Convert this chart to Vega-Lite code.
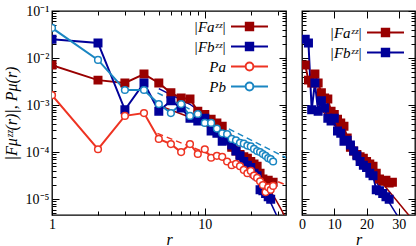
{
  "$schema": "https://vega.github.io/schema/vega-lite/v6.json",
  "background": "white",
  "padding": {"left": 2, "top": 3, "right": 2, "bottom": 0},
  "datasets": {
    "pts": [
      {"s":"Fa","r":1,"v":0.00708},{"s":"Fa","r":2,"v":0.00339},{"s":"Fa","r":3,"v":0.00295},{"s":"Fa","r":4,"v":0.00457},{"s":"Fa","r":5,"v":0.00295},{"s":"Fa","r":6,"v":0.00182},{"s":"Fa","r":7,"v":0.00141},{"s":"Fa","r":8,"v":0.00135},{"s":"Fa","r":9,"v":0.000741},{"s":"Fa","r":10,"v":0.000631},{"s":"Fa","r":11,"v":0.000501},{"s":"Fa","r":12,"v":0.000417},{"s":"Fa","r":13,"v":0.000355},{"s":"Fa","r":14,"v":0.0002},{"s":"Fa","r":15,"v":0.000126},{"s":"Fa","r":16,"v":0.000105},{"s":"Fa","r":17,"v":0.0000891},{"s":"Fa","r":18,"v":0.0000794},{"s":"Fa","r":19,"v":0.0000741},{"s":"Fa","r":20,"v":0.0000631},{"s":"Fa","r":21,"v":0.0000562},{"s":"Fa","r":22,"v":0.0000501},{"s":"Fa","r":23,"v":0.0000355},{"s":"Fa","r":24,"v":0.0000269},{"s":"Fa","r":25,"v":0.000024},{"s":"Fa","r":26,"v":0.0000251},{"s":"Fa","r":27,"v":0.0000219},{"s":"Fa","r":28,"v":0.0000229},
      {"s":"Fb","r":1,"v":0.0251},{"s":"Fb","r":2,"v":0.0209},{"s":"Fb","r":3,"v":0.000794},{"s":"Fb","r":4,"v":0.00295},{"s":"Fb","r":5,"v":0.000741},{"s":"Fb","r":6,"v":0.00123},{"s":"Fb","r":7,"v":0.000871},{"s":"Fb","r":8,"v":0.000525},{"s":"Fb","r":9,"v":0.000457},{"s":"Fb","r":10,"v":0.000525},{"s":"Fb","r":11,"v":0.000282},{"s":"Fb","r":12,"v":0.000251},{"s":"Fb","r":13,"v":0.00017},{"s":"Fb","r":14,"v":0.000178},{"s":"Fb","r":15,"v":0.000141},{"s":"Fb","r":16,"v":0.000105},{"s":"Fb","r":17,"v":0.0000832},{"s":"Fb","r":18,"v":0.0000631},{"s":"Fb","r":19,"v":0.0000525},{"s":"Fb","r":20,"v":0.0000468},{"s":"Fb","r":21,"v":0.0000355},{"s":"Fb","r":22,"v":0.0000316},{"s":"Fb","r":23,"v":0.0000158},{"s":"Fb","r":24,"v":0.0000151},{"s":"Fb","r":25,"v":0.0000132},{"s":"Fb","r":26,"v":0.0000112},{"s":"Fb","r":27,"v":0.00001},
      {"s":"Pa","r":1,"v":0.00162},{"s":"Pa","r":2,"v":0.000115},{"s":"Pa","r":3,"v":0.000589},{"s":"Pa","r":4,"v":0.000676},{"s":"Pa","r":5,"v":0.000191},{"s":"Pa","r":6,"v":0.000148},{"s":"Pa","r":7,"v":0.0001},{"s":"Pa","r":8,"v":0.000148},{"s":"Pa","r":9,"v":0.0000912},{"s":"Pa","r":10,"v":0.000115},{"s":"Pa","r":11,"v":0.0000759},{"s":"Pa","r":12,"v":0.0000832},{"s":"Pa","r":13,"v":0.0000794},{"s":"Pa","r":14,"v":0.0000631},{"s":"Pa","r":15,"v":0.0000525},{"s":"Pa","r":16,"v":0.0000562},{"s":"Pa","r":17,"v":0.0000501},{"s":"Pa","r":18,"v":0.0000417},{"s":"Pa","r":19,"v":0.0000355},{"s":"Pa","r":20,"v":0.0000398},{"s":"Pa","r":21,"v":0.0000316},{"s":"Pa","r":22,"v":0.0000282},{"s":"Pa","r":23,"v":0.000024},{"s":"Pa","r":24,"v":0.00002},{"s":"Pa","r":25,"v":0.0000141},{"s":"Pa","r":26,"v":0.0000178},{"s":"Pa","r":27,"v":0.0000158},{"s":"Pa","r":28,"v":0.0000191},
      {"s":"Pb","r":1,"v":0.0437},{"s":"Pb","r":2,"v":0.00912},{"s":"Pb","r":3,"v":0.00209},{"s":"Pb","r":4,"v":0.00209},{"s":"Pb","r":5,"v":0.00105},{"s":"Pb","r":6,"v":0.000676},{"s":"Pb","r":7,"v":0.00105},{"s":"Pb","r":8,"v":0.000589},{"s":"Pb","r":9,"v":0.000646},{"s":"Pb","r":10,"v":0.000417},{"s":"Pb","r":11,"v":0.000417},{"s":"Pb","r":12,"v":0.000316},{"s":"Pb","r":13,"v":0.000251},{"s":"Pb","r":14,"v":0.00024},{"s":"Pb","r":15,"v":0.000191},{"s":"Pb","r":16,"v":0.000178},{"s":"Pb","r":17,"v":0.000158},{"s":"Pb","r":18,"v":0.000151},{"s":"Pb","r":19,"v":0.000138},{"s":"Pb","r":20,"v":0.000132},{"s":"Pb","r":21,"v":0.000117},{"s":"Pb","r":22,"v":0.000105},{"s":"Pb","r":23,"v":0.0001},{"s":"Pb","r":24,"v":0.0000912},{"s":"Pb","r":25,"v":0.0000832},{"s":"Pb","r":26,"v":0.0000741},{"s":"Pb","r":27,"v":0.0000708},{"s":"Pb","r":28,"v":0.0000631}
    ],
    "fits": [
      {"s":"Fa","r":5,"v":0.00098},{"s":"Fa","r":8,"v":0.000552},{"s":"Fa","r":11,"v":0.000311},{"s":"Fa","r":14,"v":0.000175},{"s":"Fa","r":17,"v":0.0000989},{"s":"Fa","r":20,"v":0.0000557},{"s":"Fa","r":23,"v":0.0000314},{"s":"Fa","r":26,"v":0.0000177},{"s":"Fa","r":29,"v":0.00000998},{"s":"Fa","r":32,"v":0.00000562},{"s":"Fa","r":35,"v":0.00000317},
      {"s":"Fb","r":5,"v":0.00223},{"s":"Fb","r":8,"v":0.00104},{"s":"Fb","r":11,"v":0.000489},{"s":"Fb","r":14,"v":0.000229},{"s":"Fb","r":17,"v":0.000107},{"s":"Fb","r":20,"v":0.00005},{"s":"Fb","r":23,"v":0.0000234},{"s":"Fb","r":26,"v":0.0000109},{"s":"Fb","r":29,"v":0.00000512},{"s":"Fb","r":32,"v":0.0000024},
      {"s":"Pa","r":4.9,"v":0.00025},{"s":"Pa","r":34,"v":0.00002},
      {"s":"Pb","r":4.9,"v":0.00182},{"s":"Pb","r":34,"v":0.000076}
    ]
  },
  "resolve": {
    "scale": {"stroke": "independent"},
    "legend": {"stroke": "independent"}
  },
  "spacing": 9,
  "hconcat": [
    {
      "width": 234,
      "height": 204,
      "resolve": {"axis": {"x": "independent", "y": "independent"}},
      "layer": [
        {
          "data": {"name": "fits"},
          "transform": [{"filter": "datum.s=='Fa'||datum.s=='Fb'"}],
          "mark": {"type": "line", "clip": true, "strokeWidth": 1.5},
          "encoding": {
            "x": {"field": "r", "type": "quantitative", "scale": {"type": "log", "domain": [1, 34], "nice": false},
              "axis": {"orient": "bottom", "values": [1, 10], "format": "d", "offset": -7, "tickSize": 7, "labelPadding": 2, "labelFlush": false, "labelOverlap": false,
                "title": "r", "titleY": 36, "titleBaseline": "alphabetic", "domain": false, "grid": false}},
            "y": {"field": "v", "type": "quantitative", "scale": {"type": "log", "domain": [0.0000046, 0.1], "nice": false},
              "axis": {"orient": "left", "values": [0.00001, 0.0001, 0.001, 0.01, 0.1], "offset": -7, "tickSize": 7, "labelPadding": 3, "labelOverlap": false,
                "labelExpr": "'10' + ['⁰','⁻¹','⁻²','⁻³','⁻⁴','⁻⁵','⁻⁶'][-round(log(datum.value)/LN10)]",
                "title": "|Fμᶻᶻ(r)|, Pμ(r)", "titlePadding": 6, "domain": false, "grid": false}},
            "detail": {"field": "s"},
            "stroke": {"field": "s", "type": "nominal", "scale": {"domain": ["Fa","Fb","Pa","Pb"], "range": ["#990000","#000099","#ee3322","#1a86c2"]}}
          }
        },
        {
          "data": {"name": "fits"},
          "transform": [{"filter": "datum.s=='Pa'||datum.s=='Pb'"}],
          "mark": {"type": "line", "clip": true, "strokeWidth": 1.5, "strokeDash": [6, 4]},
          "encoding": {
            "x": {"field": "r", "type": "quantitative", "scale": {"type": "log", "domain": [1, 34], "nice": false},
              "axis": {"orient": "bottom", "values": [2,3,4,5,6,7,8,9,20,30], "offset": -4, "tickSize": 4, "labels": false, "title": null, "domain": false, "grid": false}},
            "y": {"field": "v", "type": "quantitative", "scale": {"type": "log", "domain": [0.0000046, 0.1], "nice": false},
              "axis": {"orient": "left", "values": [0.000005,0.000006,0.000007,0.000008,0.000009,0.00002,0.00003,0.00004,0.00005,0.00006,0.00007,0.00008,0.00009,0.0002,0.0003,0.0004,0.0005,0.0006,0.0007,0.0008,0.0009,0.002,0.003,0.004,0.005,0.006,0.007,0.008,0.009,0.02,0.03,0.04,0.05,0.06,0.07,0.08,0.09],
                "offset": -4, "tickSize": 4, "labels": false, "title": null, "domain": false, "grid": false}},
            "detail": {"field": "s"},
            "stroke": {"field": "s", "type": "nominal", "scale": {"domain": ["Fa","Fb","Pa","Pb"], "range": ["#990000","#000099","#ee3322","#1a86c2"]}}
          }
        },
        {
          "data": {"name": "pts"},
          "mark": {"type": "line", "clip": true, "strokeWidth": 2},
          "encoding": {
            "x": {"field": "r", "type": "quantitative", "scale": {"type": "log", "domain": [1, 34], "nice": false},
              "axis": {"orient": "top", "values": [1, 10], "offset": -7, "tickSize": 7, "labels": false, "title": null, "domain": false, "grid": false}},
            "y": {"field": "v", "type": "quantitative", "scale": {"type": "log", "domain": [0.0000046, 0.1], "nice": false},
              "axis": {"orient": "right", "values": [0.00001, 0.0001, 0.001, 0.01, 0.1], "offset": -7, "tickSize": 7, "labels": false, "title": null, "domain": false, "grid": false}},
            "stroke": {"field": "s", "type": "nominal", "scale": {"domain": ["Fa","Fb","Pa","Pb"], "range": ["#990000","#000099","#ee3322","#1a86c2"]},
              "legend": {
                "orient": "none", "legendX": 187, "legendY": 5, "title": null,
                "symbolSize": 342, "symbolStrokeWidth": 2, "symbolType": "M-2,0H2M-0.4,-0.4H0.4V0.4H-0.4Z",
                "labelAlign": "right", "labelOffset": -34, "labelFontSize": 15, "labelFontStyle": "italic", "rowPadding": 1,
                "labelExpr": "datum.value=='Fa' ? '|Faᶻᶻ|' : datum.value=='Fb' ? '|Fbᶻᶻ|' : datum.value",
                "encode": {"symbols": {"update": {
                  "shape": {"signal": "datum.value=='Pa'||datum.value=='Pb' ? 'M-2,0H-0.42A0.42,0.42 0 1,1 0.42,0A0.42,0.42 0 1,1 -0.42,0M0.42,0H2' : 'M-2,0H2M-0.4,-0.4H0.4V0.4H-0.4Z'"},
                  "fill": {"signal": "datum.value=='Fa' ? '#990000' : datum.value=='Fb' ? '#000099' : '#ffffff'"},
                  "stroke": {"signal": "datum.value=='Fa' ? '#990000' : datum.value=='Fb' ? '#000099' : datum.value=='Pa' ? '#ee3322' : '#1a86c2'"},
                  "strokeDash": {"value": []},
                  "opacity": {"value": 1}
                }}}
              }}
          }
        },
        {
          "data": {"name": "pts"},
          "transform": [{"filter": "datum.s=='Fa'"}],
          "mark": {"type": "point", "shape": "square", "size": 56, "filled": true, "fill": "#990000", "stroke": "#990000", "strokeWidth": 1.5, "opacity": 1, "clip": true},
          "encoding": {
            "x": {"field": "r", "type": "quantitative", "scale": {"type": "log", "domain": [1, 34], "nice": false},
              "axis": {"orient": "top", "values": [2,3,4,5,6,7,8,9,20,30], "offset": -4, "tickSize": 4, "labels": false, "title": null, "domain": false, "grid": false}},
            "y": {"field": "v", "type": "quantitative", "scale": {"type": "log", "domain": [0.0000046, 0.1], "nice": false},
              "axis": {"orient": "right", "values": [0.000005,0.000006,0.000007,0.000008,0.000009,0.00002,0.00003,0.00004,0.00005,0.00006,0.00007,0.00008,0.00009,0.0002,0.0003,0.0004,0.0005,0.0006,0.0007,0.0008,0.0009,0.002,0.003,0.004,0.005,0.006,0.007,0.008,0.009,0.02,0.03,0.04,0.05,0.06,0.07,0.08,0.09],
                "offset": -4, "tickSize": 4, "labels": false, "title": null, "domain": false, "grid": false}}
          }
        },
        {
          "data": {"name": "pts"},
          "transform": [{"filter": "datum.s=='Fb'"}],
          "mark": {"type": "point", "shape": "square", "size": 56, "filled": true, "fill": "#000099", "stroke": "#000099", "strokeWidth": 1.5, "opacity": 1, "clip": true},
          "encoding": {
            "x": {"field": "r", "type": "quantitative", "scale": {"type": "log", "domain": [1, 34], "nice": false}, "axis": null},
            "y": {"field": "v", "type": "quantitative", "scale": {"type": "log", "domain": [0.0000046, 0.1], "nice": false}, "axis": null}
          }
        },
        {
          "data": {"name": "pts"},
          "transform": [{"filter": "datum.s=='Pa'"}],
          "mark": {"type": "point", "shape": "circle", "size": 45, "filled": false, "fill": "#ffffff", "stroke": "#ee3322", "strokeWidth": 1.5, "opacity": 1, "fillOpacity": 1, "clip": true},
          "encoding": {
            "x": {"field": "r", "type": "quantitative", "scale": {"type": "log", "domain": [1, 34], "nice": false}, "axis": null},
            "y": {"field": "v", "type": "quantitative", "scale": {"type": "log", "domain": [0.0000046, 0.1], "nice": false}, "axis": null}
          }
        },
        {
          "data": {"name": "pts"},
          "transform": [{"filter": "datum.s=='Pb'"}],
          "mark": {"type": "point", "shape": "circle", "size": 45, "filled": false, "fill": "#ffffff", "stroke": "#1a86c2", "strokeWidth": 1.5, "opacity": 1, "fillOpacity": 1, "clip": true},
          "encoding": {
            "x": {"field": "r", "type": "quantitative", "scale": {"type": "log", "domain": [1, 34], "nice": false}, "axis": null},
            "y": {"field": "v", "type": "quantitative", "scale": {"type": "log", "domain": [0.0000046, 0.1], "nice": false}, "axis": null}
          }
        }
      ]
    },
    {
      "width": 113,
      "height": 204,
      "resolve": {"axis": {"x": "independent", "y": "independent"}},
      "layer": [
        {
          "data": {"name": "fits"},
          "transform": [{"filter": "datum.s=='Fa'||datum.s=='Fb'"}],
          "mark": {"type": "line", "clip": true, "strokeWidth": 1.5},
          "encoding": {
            "x": {"field": "r", "type": "quantitative", "scale": {"domain": [0, 35], "nice": false, "zero": false},
              "axis": {"orient": "bottom", "values": [0, 10, 20, 30], "offset": -7, "tickSize": 7, "labelPadding": 2, "labelFlush": false, "labelOverlap": false,
                "title": "r", "titleY": 36, "titleBaseline": "alphabetic", "domain": false, "grid": false}},
            "y": {"field": "v", "type": "quantitative", "scale": {"type": "log", "domain": [0.0000046, 0.1], "nice": false},
              "axis": {"orient": "left", "values": [0.00001, 0.0001, 0.001, 0.01, 0.1], "offset": -7, "tickSize": 7, "labels": false, "title": null, "domain": false, "grid": false}},
            "detail": {"field": "s"},
            "stroke": {"field": "s", "type": "nominal", "scale": {"domain": ["Fa","Fb"], "range": ["#990000","#000099"]}}
          }
        },
        {
          "data": {"name": "pts"},
          "transform": [{"filter": "datum.s=='Fa'||datum.s=='Fb'"}],
          "mark": {"type": "line", "clip": true, "strokeWidth": 2},
          "encoding": {
            "x": {"field": "r", "type": "quantitative", "scale": {"domain": [0, 35], "nice": false, "zero": false},
              "axis": {"orient": "top", "values": [0, 10, 20, 30], "offset": -7, "tickSize": 7, "labels": false, "title": null, "domain": false, "grid": false}},
            "y": {"field": "v", "type": "quantitative", "scale": {"type": "log", "domain": [0.0000046, 0.1], "nice": false},
              "axis": {"orient": "left", "values": [0.000005,0.000006,0.000007,0.000008,0.000009,0.00002,0.00003,0.00004,0.00005,0.00006,0.00007,0.00008,0.00009,0.0002,0.0003,0.0004,0.0005,0.0006,0.0007,0.0008,0.0009,0.002,0.003,0.004,0.005,0.006,0.007,0.008,0.009,0.02,0.03,0.04,0.05,0.06,0.07,0.08,0.09],
                "offset": -4, "tickSize": 4, "labels": false, "title": null, "domain": false, "grid": false}},
            "stroke": {"field": "s", "type": "nominal", "scale": {"domain": ["Fa","Fb"], "range": ["#990000","#000099"]},
              "legend": {
                "orient": "none", "legendX": 73, "legendY": 11, "title": null,
                "symbolSize": 342, "symbolStrokeWidth": 2, "symbolType": "M-2,0H2M-0.4,-0.4H0.4V0.4H-0.4Z",
                "labelAlign": "right", "labelOffset": -34, "labelFontSize": 15, "labelFontStyle": "italic", "rowPadding": 1,
                "labelExpr": "datum.value=='Fa' ? '|Faᶻᶻ|' : '|Fbᶻᶻ|'",
                "encode": {"symbols": {"update": {
                  "shape": {"value": "M-2,0H2M-0.4,-0.4H0.4V0.4H-0.4Z"},
                  "fill": {"signal": "datum.value=='Fa' ? '#990000' : '#000099'"},
                  "stroke": {"signal": "datum.value=='Fa' ? '#990000' : '#000099'"},
                  "opacity": {"value": 1}
                }}}
              }}
          }
        },
        {
          "data": {"name": "pts"},
          "transform": [{"filter": "datum.s=='Fa'"}],
          "mark": {"type": "point", "shape": "square", "size": 56, "filled": true, "fill": "#990000", "stroke": "#990000", "strokeWidth": 1.5, "opacity": 1, "clip": true},
          "encoding": {
            "x": {"field": "r", "type": "quantitative", "scale": {"domain": [0, 35], "nice": false, "zero": false}, "axis": null},
            "y": {"field": "v", "type": "quantitative", "scale": {"type": "log", "domain": [0.0000046, 0.1], "nice": false},
              "axis": {"orient": "right", "values": [0.00001, 0.0001, 0.001, 0.01, 0.1], "offset": -7, "tickSize": 7, "labels": false, "title": null, "domain": false, "grid": false}}
          }
        },
        {
          "data": {"name": "pts"},
          "transform": [{"filter": "datum.s=='Fb'"}],
          "mark": {"type": "point", "shape": "square", "size": 56, "filled": true, "fill": "#000099", "stroke": "#000099", "strokeWidth": 1.5, "opacity": 1, "clip": true},
          "encoding": {
            "x": {"field": "r", "type": "quantitative", "scale": {"domain": [0, 35], "nice": false, "zero": false}, "axis": null},
            "y": {"field": "v", "type": "quantitative", "scale": {"type": "log", "domain": [0.0000046, 0.1], "nice": false},
              "axis": {"orient": "right", "values": [0.000005,0.000006,0.000007,0.000008,0.000009,0.00002,0.00003,0.00004,0.00005,0.00006,0.00007,0.00008,0.00009,0.0002,0.0003,0.0004,0.0005,0.0006,0.0007,0.0008,0.0009,0.002,0.003,0.004,0.005,0.006,0.007,0.008,0.009,0.02,0.03,0.04,0.05,0.06,0.07,0.08,0.09],
                "offset": -4, "tickSize": 4, "labels": false, "title": null, "domain": false, "grid": false}}
          }
        }
      ]
    }
  ],
  "config": {
    "font": "Liberation Serif",
    "view": {"stroke": "black", "strokeWidth": 1.3},
    "axis": {"labelFont": "Liberation Serif", "labelFontSize": 14, "labelColor": "black", "tickColor": "black", "tickWidth": 1,
      "titleFont": "Liberation Serif", "titleFontSize": 16, "titleFontWeight": "normal", "titleFontStyle": "italic", "titleColor": "black"},
    "legend": {"labelFont": "Liberation Serif", "labelColor": "black", "padding": 0}
  }
}
